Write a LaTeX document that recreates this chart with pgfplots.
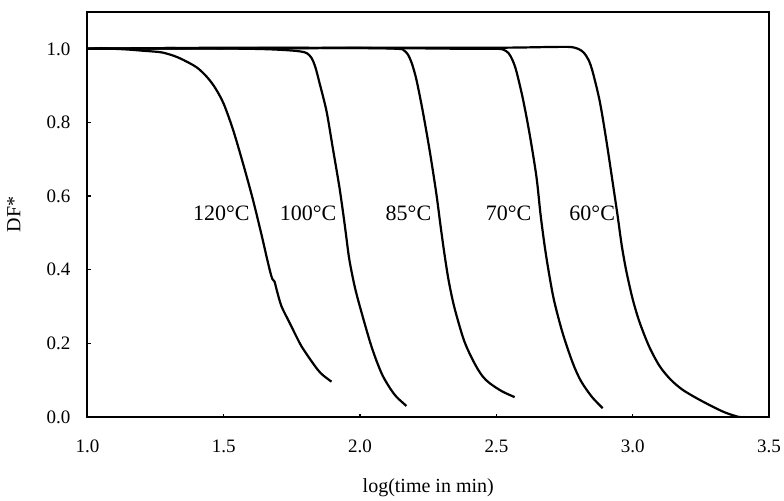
\documentclass[border=0pt]{standalone}
\usepackage{fontspec}
\setmainfont{Liberation Serif}
\usepackage{pgfplots}
\pgfplotsset{compat=1.18}
\begin{document}
\begin{tikzpicture}
\path[use as bounding box] (-43.75pt,-41.5pt) rectangle (348.25pt,208.5pt);
\begin{axis}[
  scale only axis,
  width=340.75pt, height=202.5pt,
  xmin=1, xmax=3.5, ymin=0, ymax=1.1,
  xtick={1,1.5,2,2.5,3,3.5},
  ytick={0,0.2,0.4,0.6,0.8,1.0},
  tick pos=left, tick align=inside,
  major tick length=1.6pt,
  axis line style={line width=1pt},
  every tick/.style={black, line width=0.6pt},
  /pgf/number format/assume math mode=true,
  /pgf/number format/.cd, fixed, fixed zerofill, precision=1, /pgfplots/.cd,
  ticklabel style={font=\fontsize{9.5}{11}\selectfont},
  xticklabel style={yshift=-8pt},
  yticklabel style={xshift=-5pt},
  xlabel={log(time in min)},
  ylabel={DF*},
  label style={font=\fontsize{10}{12}\selectfont},
  xlabel style={at={(axis description cs:0.5,-0.175)}, anchor=center},
  ylabel style={at={(axis description cs:-0.108,0.5)}, anchor=center},
  curve/.style={black, line width=1.1pt, smooth, tension=0.5, mark=none},
]
% 120 C
\addplot[curve] coordinates {(1.00,1.000) (1.05,1.002) (1.10,1.000) (1.15,0.998) (1.20,0.995) (1.266,0.991) (1.30,0.985) (1.34,0.974) (1.40,0.950) (1.44,0.922) (1.47,0.892) (1.50,0.850) (1.534,0.78) (1.57,0.69) (1.607,0.59) (1.64,0.49) (1.657,0.435) (1.670,0.395) (1.678,0.375) (1.686,0.368) (1.697,0.337) (1.712,0.30) (1.742,0.255) (1.779,0.20) (1.80,0.175) (1.827,0.146) (1.845,0.128) (1.863,0.114) (1.895,0.096)};
% 100 C
\addplot[curve] coordinates {(1.0,1.0) (1.3,1.002) (1.6,1.0) (1.717,0.997) (1.78,0.993) (1.805,0.988) (1.822,0.975) (1.836,0.950) (1.852,0.905) (1.877,0.830) (1.90,0.73) (1.925,0.620) (1.944,0.52) (1.96,0.43) (1.98,0.355) (2.00,0.298) (2.036,0.205) (2.06,0.153) (2.083,0.112) (2.11,0.078) (2.133,0.055) (2.17,0.03)};
% 85 C
\addplot[curve] coordinates {(1.0,1.0) (1.5,1.003) (2.0,1.002) (2.140,1.0) (2.160,0.996) (2.175,0.985) (2.190,0.960) (2.207,0.915) (2.23,0.830) (2.256,0.720) (2.28,0.605) (2.295,0.52) (2.31,0.44) (2.325,0.37) (2.345,0.30) (2.377,0.217) (2.40,0.175) (2.427,0.136) (2.45,0.11) (2.475,0.092) (2.52,0.07) (2.567,0.054)};
% 70 C
\addplot[curve] coordinates {(1.0,1.0) (2.0,1.002) (2.4,1.0) (2.50,1.0) (2.525,0.998) (2.545,0.988) (2.560,0.968) (2.573,0.940) (2.597,0.865) (2.622,0.768) (2.647,0.652) (2.662,0.55) (2.677,0.465) (2.693,0.39) (2.712,0.315) (2.743,0.228) (2.78,0.147) (2.81,0.098) (2.85,0.055) (2.89,0.024)};
% 60 C
\addplot[curve] coordinates {(1.0,1.0) (2.0,1.003) (2.5,1.003) (2.7,1.005) (2.77,1.005) (2.80,1.000) (2.82,0.990) (2.838,0.970) (2.853,0.938) (2.879,0.858) (2.903,0.753) (2.926,0.640) (2.945,0.545) (2.960,0.465) (2.977,0.395) (3.00,0.32) (3.025,0.258) (3.06,0.192) (3.099,0.138) (3.14,0.101) (3.183,0.074) (3.23,0.053) (3.27,0.037) (3.31,0.022) (3.343,0.011) (3.39,0.0) (3.41,0.0)};
\node[anchor=east, inner sep=0.5pt, font=\fontsize{11}{13}\selectfont] at (axis cs:1.600,0.554) {120°C};
\node[anchor=east, inner sep=0.5pt, font=\fontsize{11}{13}\selectfont] at (axis cs:1.918,0.554) {100°C};
\node[anchor=east, inner sep=0.5pt, font=\fontsize{11}{13}\selectfont] at (axis cs:2.266,0.554) {85°C};
\node[anchor=east, inner sep=0.5pt, font=\fontsize{11}{13}\selectfont] at (axis cs:2.633,0.554) {70°C};
\node[anchor=east, inner sep=0.5pt, font=\fontsize{11}{13}\selectfont] at (axis cs:2.940,0.554) {60°C};
\end{axis}
\end{tikzpicture}
\end{document}
